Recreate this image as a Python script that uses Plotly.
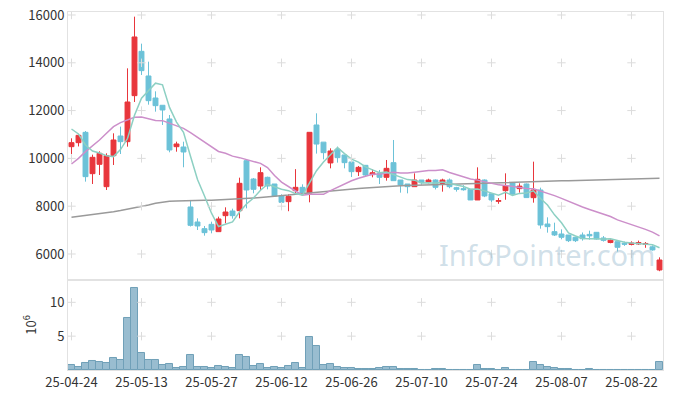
import plotly.graph_objects as go

dates = [
    "25-04-24", "25-04-25", "25-04-28", "25-04-29", "25-04-30",
    "25-05-02", "25-05-07", "25-05-08", "25-05-09", "25-05-12", "25-05-13", "25-05-14", "25-05-15", "25-05-16",
    "25-05-19", "25-05-20", "25-05-21", "25-05-22", "25-05-23", "25-05-26", "25-05-27", "25-05-28", "25-05-29", "25-05-30",
    "25-06-02", "25-06-04", "25-06-05", "25-06-09", "25-06-10", "25-06-11", "25-06-12", "25-06-13",
    "25-06-16", "25-06-17", "25-06-18", "25-06-19", "25-06-20", "25-06-23", "25-06-24", "25-06-25", "25-06-26", "25-06-27", "25-06-30",
    "25-07-01", "25-07-02", "25-07-03", "25-07-04", "25-07-07", "25-07-08", "25-07-09", "25-07-10", "25-07-11",
    "25-07-14", "25-07-15", "25-07-16", "25-07-17", "25-07-18", "25-07-21", "25-07-22", "25-07-23", "25-07-24", "25-07-25",
    "25-07-28", "25-07-29", "25-07-30", "25-07-31", "25-08-01",
    "25-08-04", "25-08-05", "25-08-06", "25-08-07", "25-08-08", "25-08-11", "25-08-12", "25-08-13", "25-08-14",
    "25-08-18", "25-08-19", "25-08-20", "25-08-21", "25-08-22", "25-08-25", "25-08-26", "25-08-27", "25-08-28",
]

open_ = [10491, 10658, 11090, 9361, 9752, 8817, 10114, 10937, 10700, 12625,
         14480, 13448, 12527, 12222, 11649, 10490, 10477, 7967, 7339, 7060,
         7241, 6935, 7604, 7799, 7813, 9905, 9138, 8845, 9208, 8929,
         8427, 8190, 8650, 8789, 8550, 11398, 10680, 9810, 10380, 10143,
         9850, 9445, 9710, 9320, 9375, 9208, 9822, 9096, 8929, 8817,
         9096, 9013, 9096, 8943, 9096, 8775, 8734, 8706, 8260, 9096,
         8520, 8204, 8650, 8970, 8734, 8929, 8357, 8678, 7255, 6935,
         6837, 6795, 6698, 6795, 6820, 6907, 6670, 6480, 6516, 6450,
         6400, 6420, 6400, 6300, 5331]
high = [10840, 11021, 11146, 10156, 10296, 10212, 11049, 11328, 13768, 15930,
        14800, 14047, 12806, 12222, 11816, 10699, 10699, 8260, 7492, 7172,
        7353, 7562, 7953, 7897, 9194, 9961, 9180, 9626, 9236, 8929,
        8497, 8497, 9550, 8915, 11091, 11886, 10680, 10421, 10491, 10143,
        9933, 9682, 9710, 9542, 9515, 9933, 10770, 9096, 8929, 9375,
        9096, 9150, 9120, 9150, 9160, 8810, 8880, 8706, 9626, 9120,
        8520, 8340, 9375, 9000, 8957, 8950, 9863, 8775, 7534, 7311,
        7032, 6795, 6698, 6900, 6976, 6920, 6750, 6610, 6516, 6520,
        6530, 6560, 6500, 6360, 5860]
low = [10184, 10500, 9027, 8929, 9305, 8678, 9724, 10184, 10491, 12360,
       13490, 12248, 11955, 11398, 10255, 10280, 9628, 7150, 7004, 6767,
       6865, 6935, 7283, 7479, 7492, 7911, 8538, 8678, 8706, 8399,
       7990, 7790, 8538, 8441, 8162, 10200, 9961, 9584, 9822, 9584,
       9220, 9264, 9250, 9208, 8929, 9068, 9068, 8566, 8538, 8817,
       8900, 8955, 8700, 8608, 8750, 8610, 8650, 8260, 8260, 8380,
       8050, 8100, 8270, 8480, 8566, 8357, 8148, 7060, 6893, 6753,
       6614, 6500, 6500, 6560, 6600, 6600, 6520, 6450, 6100, 6340,
       6360, 6380, 6260, 6140, 5280]
close = [10658, 10965, 9236, 10045, 10212, 10114, 10770, 10700, 12360, 15080,
         13671, 12415, 12206, 12025, 10352, 10603, 10268, 7199, 7172, 6893,
         7004, 7465, 7757, 7604, 8957, 8678, 8706, 9403, 8845, 8427,
         8162, 8413, 8789, 8539, 11091, 10600, 10240, 10310, 10030, 9822,
         9445, 9626, 9305, 9400, 9208, 9584, 9068, 8887, 8817, 9096,
         8985, 9096, 8789, 9096, 8817, 8706, 8692, 8260, 9124, 8427,
         8260, 8232, 8850, 8500, 8840, 8360, 8678, 7213, 7144, 6795,
         6698, 6558, 6558, 6640, 6760, 6630, 6570, 6580, 6280, 6410,
         6460, 6480, 6440, 6170, 5749]

ma5 = [11230, 11021, 10561, 10310, 10223, 10114, 10075, 10368, 10831, 11805,
       12516, 12845, 13146, 13079, 12134, 11520, 11091, 10089, 9119, 8427,
       7707, 7147, 7258, 7345, 7757, 8092, 8340, 8670, 8918, 8812,
       8709, 8650, 8527, 8466, 8999, 9486, 9852, 10156, 10454, 10200,
       9969, 9847, 9646, 9520, 9397, 9425, 9313, 9229, 9113, 9090,
       8971, 8976, 8957, 9012, 8957, 8901, 8820, 8714, 8720, 8642,
       8553, 8461, 8579, 8454, 8536, 8556, 8646, 8318, 8047, 7638,
       7306, 6882, 6751, 6650, 6643, 6629, 6632, 6636, 6564, 6494,
       6460, 6442, 6414, 6392, 6260]
ma20 = [9766, 10003, 10282, 10519, 10770, 11049, 11328, 11495, 11607, 11718,
        11730, 11662, 11590, 11579, 11468, 11356, 11258, 11077, 10881, 10647,
        10465, 10290, 10216, 10094, 10031, 9959, 9856, 9791, 9615, 9283,
        9007, 8807, 8636, 8462, 8499, 8499, 8497, 8653, 8796, 8942,
        9064, 9172, 9250, 9339, 9352, 9397, 9415, 9390, 9388, 9422,
        9463, 9497, 9497, 9525, 9411, 9316, 9239, 9136, 9091, 9021,
        8962, 8892, 8870, 8825, 8806, 8745, 8726, 8642, 8558, 8443,
        8329, 8202, 8090, 7968, 7865, 7761, 7655, 7571, 7429, 7328,
        7238, 7150, 7030, 6913, 6759]
ma_long = [7535, 7570, 7600, 7645, 7687, 7730, 7770, 7820, 7871, 7925,
           7980, 8050, 8120, 8165, 8204, 8222, 8235, 8240, 8245, 8248,
           8250, 8260, 8270, 8285, 8300, 8320, 8340, 8360, 8380, 8405,
           8430, 8465, 8500, 8530, 8560, 8590, 8620, 8650, 8680, 8705,
           8730, 8745, 8760, 8785, 8810, 8825, 8840, 8855, 8870, 8880,
           8890, 8900, 8910, 8920, 8930, 8940, 8950, 8955, 8960, 8968,
           8975, 8983, 8990, 9000, 9010, 9020, 9030, 9038, 9045, 9053,
           9060, 9068, 9075, 9083, 9090, 9100, 9110, 9118, 9125, 9133,
           9140, 9148, 9155, 9161, 9166]

volume_m = [0.75, 0.45, 1.05, 1.35, 1.25, 1.05, 1.8, 1.5, 7.65, 12.15,
            2.55, 1.5, 1.5, 0.75, 0.9, 0.3, 0.45, 2.25, 0.45, 0.45,
            0.3, 0.6, 0.45, 0.3, 2.25, 1.95, 0.6, 0.9, 0.3, 0.45,
            0.3, 0.6, 1.05, 0.3, 4.95, 3.6, 0.75, 0.9, 0.45, 0.3,
            0.3, 0.15, 0.15, 0.15, 0.3, 0.45, 0.45, 0.15, 0.15, 0.15,
            0.03, 0.03, 0.15, 0.15, 0.03, 0.03, 0.03, 0.03, 0.75, 0.15,
            0.15, 0.03, 0.3, 0.03, 0.03, 0.03, 1.2, 0.75, 0.45, 0.3,
            0.15, 0.15, 0.03, 0.03, 0.15, 0.03, 0.03, 0.03, 0.03, 0.03,
            0.03, 0.03, 0.03, 0.03, 1.2]

price_ticks = [6000, 8000, 10000, 12000, 14000, 16000]
price_labels = ["6000", "8000", "10000", "12000", "14000", "16000"]
vol_ticks = [5, 10]
vol_labels = ["5", "10"]
date_ticks = dates[::10]

RED = "#e8363c"
BLUE = "#6cc2d8"
FONT = "Noto Sans CJK KR"

fig = go.Figure()

fig.add_trace(go.Scatter(x=dates, y=ma_long, mode="lines",
                         line=dict(color="#9a9a9a", width=1.5), xaxis="x", yaxis="y",
                         hoverinfo="skip"))
fig.add_trace(go.Scatter(x=dates, y=ma20, mode="lines",
                         line=dict(color="#cc8fca", width=1.5), xaxis="x", yaxis="y",
                         hoverinfo="skip"))
fig.add_trace(go.Scatter(x=dates, y=ma5, mode="lines",
                         line=dict(color="#8dd0c3", width=1.5), xaxis="x", yaxis="y",
                         hoverinfo="skip"))
fig.add_trace(go.Candlestick(
    x=dates, open=open_, high=high, low=low, close=close,
    increasing=dict(line=dict(color=RED, width=1), fillcolor=RED),
    decreasing=dict(line=dict(color=BLUE, width=1), fillcolor=BLUE),
    xaxis="x", yaxis="y", whiskerwidth=0))

fig.add_trace(go.Bar(x=dates, y=volume_m, xaxis="x2", yaxis="y2",
                     marker=dict(color="rgba(135,178,200,0.85)",
                                 line=dict(color="rgb(112,160,184)", width=1))))

# grid crosses
gx, gy = [], []
for d in date_ticks:
    for p in price_ticks:
        gx.append(d); gy.append(p)
fig.add_trace(go.Scatter(x=gx, y=gy, mode="markers", xaxis="x", yaxis="y",
                         marker=dict(symbol="cross-thin", size=6,
                                     line=dict(color="#dcdcdc", width=1)),
                         hoverinfo="skip"))
vx, vy = [], []
for d in date_ticks:
    for v in vol_ticks:
        vx.append(d); vy.append(v)
fig.add_trace(go.Scatter(x=vx, y=vy, mode="markers", xaxis="x2", yaxis="y2",
                         marker=dict(symbol="cross-thin", size=6,
                                     line=dict(color="#dcdcdc", width=1)),
                         hoverinfo="skip"))

fig.add_annotation(text="InfoPointer.com", xref="paper", yref="paper",
                   x=0.99, y=0.262, xanchor="right", yanchor="bottom",
                   showarrow=False,
                   font=dict(family="Noto Sans", size=29, color="rgba(150,185,205,0.45)"))

axis_common = dict(showline=True, linecolor="#e2e2e2", linewidth=1, mirror=True,
                   showgrid=False, zeroline=False, ticks="", automargin=False,
                   ticklabeloverflow="allow",
                   tickfont=dict(family=FONT, size=13, color="#333"))

fig.update_layout(
    width=673, height=398,
    margin=dict(l=68, r=10, t=12, b=28, autoexpand=False),
    paper_bgcolor="white", plot_bgcolor="white",
    showlegend=False,
    bargap=0, boxgap=0.3, boxgroupgap=0.0,
    xaxis=dict(type="category", domain=[0, 1], anchor="y", matches="x2",
               range=[-0.5, len(dates) - 0.5], showticklabels=False,
               rangeslider=dict(visible=False), **axis_common),
    yaxis=dict(domain=[0.2514, 1], anchor="x", range=[4912, 16125],
               tickvals=price_ticks, ticktext=price_labels, **axis_common),
    xaxis2=dict(type="category", domain=[0, 1], anchor="y2",
                range=[-0.5, len(dates) - 0.5],
                tickvals=date_ticks, ticktext=date_ticks, **axis_common),
    yaxis2=dict(domain=[0, 0.2514], anchor="x2", range=[0, 13.3],
                tickvals=vol_ticks, ticktext=vol_labels,
                title=dict(text="10<sup>6</sup>", standoff=10,
                           font=dict(family=FONT, size=13, color="#333")),
                **axis_common),
)

# remove the browser's default page margin so the figure fills the window exactly
fig.write_html("out.html",
               config={"displayModeBar": False},
               post_script="document.body.style.margin='0';document.body.style.overflow='hidden';")
